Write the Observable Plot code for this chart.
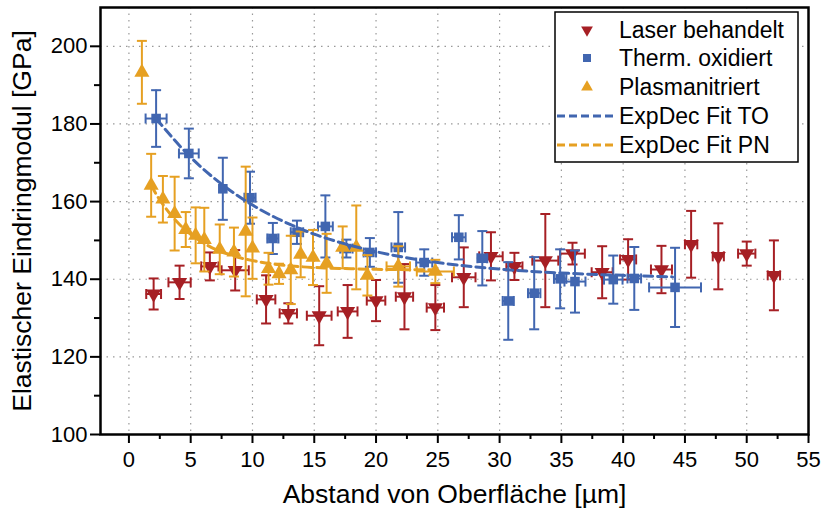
<!DOCTYPE html>
<html>
<head>
<meta charset="utf-8">
<script src="https://cdn.jsdelivr.net/npm/d3@7"></script>
<script src="https://cdn.jsdelivr.net/npm/@observablehq/plot@0.6"></script>
<style>
  html, body { margin: 0; padding: 0; background: white; }
</style>
</head>
<body>
<div id="chart"></div>
<script>
// Elastic indentation modulus vs. distance from surface, three surface treatments

// Laser behandelt
const laserX    = [2.0, 4.1, 6.55, 8.6, 11.1, 12.9, 15.4, 17.7, 20.0, 22.3, 24.8, 27.1, 29.3, 31.2, 33.7, 35.9, 38.3, 40.4, 43.1, 45.5, 47.7, 50.0, 52.2];
const laserY    = [136.2, 139.2, 143.3, 142.3, 134.8, 131.2, 130.6, 131.7, 134.5, 135.5, 132.7, 140.5, 145.9, 143.3, 144.8, 146.6, 141.8, 145.1, 142.5, 149.0, 145.9, 146.6, 141.0];
const laserYErr = [4.0, 4.3, 3.6, 5.2, 6.2, 2.6, 7.6, 6.8, 5.3, 8.4, 5.8, 7.7, 6.2, 3.5, 12.0, 2.8, 6.7, 5.2, 6.1, 8.6, 8.5, 3.1, 9.0];
const laserXErr = [0.6, 0.9, 0.7, 1.1, 0.75, 0.7, 1.0, 0.8, 0.75, 0.7, 0.7, 0.95, 0.95, 0.65, 1.05, 1.0, 0.85, 0.65, 0.85, 0.5, 0.45, 0.7, 0.5];

// Therm. oxidiert
const toX    = [2.2, 4.85, 7.6, 9.8, 11.65, 13.6, 15.9, 17.6, 19.5, 21.8, 23.9, 26.7, 28.6, 30.7, 32.8, 34.9, 36.1, 39.2, 40.9, 44.2];
const toY    = [181.4, 172.4, 163.3, 161.0, 150.5, 152.1, 153.6, 147.9, 146.9, 148.2, 144.3, 150.8, 145.4, 134.4, 136.4, 140.1, 139.4, 139.9, 140.2, 137.9];
const toYErr = [7.3, 6.4, 8.0, 6.7, 4.0, 3.0, 8.0, 2.3, 3.7, 9.1, 3.4, 5.7, 7.0, 10.0, 9.3, 7.6, 8.0, 6.2, 8.1, 10.2];
const toXErr = [0.85, 0.8, 0, 0.45, 0.45, 0.5, 0.6, 0.5, 0.5, 0.55, 0.65, 0.55, 0.4, 0.45, 0.5, 0.5, 0.85, 0.75, 0.55, 2.1];

// Plasmanitriert
const pnX    = [1.05, 1.8, 2.75, 3.7, 4.6, 5.4, 6.1, 7.35, 8.5, 9.45, 10.0, 11.3, 12.15, 13.1, 13.9, 14.9, 16.0, 17.3, 18.4, 19.3, 21.8, 24.8];
const pnY    = [193.3, 164.2, 160.6, 156.9, 152.8, 151.3, 150.2, 147.7, 147.0, 152.3, 148.0, 142.7, 141.4, 142.4, 146.4, 145.6, 144.1, 148.2, 148.2, 141.0, 143.3, 142.0];
const pnYErr = [8.1, 8.1, 6.0, 9.5, 4.5, 7.2, 8.2, 6.4, 6.3, 16.7, 7.9, 4.1, 2.6, 8.8, 5.9, 7.1, 7.6, 5.4, 10.8, 5.2, 5.2, 3.0];
const pnXErr = [0, 0, 0, 0, 0, 0, 0, 0, 0, 0, 0, 0, 0, 0, 0, 0, 0, 0, 0, 0, 0.95, 1.5];

// ExpDec fit curves, sampled along the fitted lines
const toFitX = [2.2, 5, 7.5, 10, 12.5, 15, 17.5, 20, 25, 30, 35, 40, 44];
const toFitY = [181.4, 171.4, 164.5, 159.1, 154.9, 151.6, 149.1, 147.1, 144.3, 142.6, 141.6, 141.0, 140.6];
const pnFitX = [1.8, 2.5, 3, 4, 5, 6, 7, 8, 9, 10, 12, 14, 16, 18, 20, 22.5, 24.8];
const pnFitY = [164.2, 160.4, 158.2, 154.4, 151.6, 149.4, 147.7, 146.5, 145.5, 144.8, 143.8, 143.2, 142.9, 142.7, 142.55, 142.47, 142.43];

// Axis ticks
const xMajor = [0, 5, 10, 15, 20, 25, 30, 35, 40, 45, 50, 55];
const xMinor = [2.5, 7.5, 12.5, 17.5, 22.5, 27.5, 32.5, 37.5, 42.5, 47.5, 52.5];
const xGrid  = [0, 5, 10, 15, 20, 25, 30, 35, 40, 45, 50];
const yMajor = [100, 120, 140, 160, 180, 200];
const yMinor = [110, 130, 150, 170, 190];
const yGrid  = [120, 140, 160, 180, 200];

const seriesNames = ["Laser behandelt", "Therm. oxidiert", "Plasmanitriert"];
const fitNames = ["ExpDec Fit TO", "ExpDec Fit PN"];

const RED = "#a61f24", BLUE = "#4166b0", GOLD = "#e6a022";
const FONT = "'Liberation Sans', Arial, Helvetica, sans-serif";

const rows = (xs, ys, ye, xe) => xs.map((x, i) => ({x, y: ys[i], ye: ye[i], xe: xe[i]}));
const laser = rows(laserX, laserY, laserYErr, laserXErr);
const to = rows(toX, toY, toYErr, toXErr);
const pn = rows(pnX, pnY, pnYErr, pnXErr);
const toFit = toFitX.map((x, i) => ({x, y: toFitY[i]}));
const pnFit = pnFitX.map((x, i) => ({x, y: pnFitY[i]}));

// Error bar cap symbols (fixed pixel width)
const capH = {draw(ctx) { ctx.moveTo(-5, 0); ctx.lineTo(5, 0); }};
const capV = {draw(ctx) { ctx.moveTo(0, -5); ctx.lineTo(0, 5); }};

function errorBars(data, color) {
  const withX = data.filter(d => d.xe > 0);
  const caps = data.flatMap(d => [{x: d.x, y: d.y + d.ye}, {x: d.x, y: d.y - d.ye}]);
  const xcaps = withX.flatMap(d => [{x: d.x + d.xe, y: d.y}, {x: d.x - d.xe, y: d.y}]);
  return [
    Plot.ruleX(data, {x: "x", y1: d => d.y - d.ye, y2: d => d.y + d.ye, stroke: color, strokeWidth: 2}),
    Plot.dot(caps, {x: "x", y: "y", symbol: capH, fill: "none", stroke: color, strokeWidth: 2}),
    Plot.ruleY(withX, {y: "y", x1: d => d.x - d.xe, x2: d => d.x + d.xe, stroke: color, strokeWidth: 2}),
    Plot.dot(xcaps, {x: "x", y: "y", symbol: capV, fill: "none", stroke: color, strokeWidth: 2})
  ];
}

const chart = Plot.plot({
  width: 827,
  height: 518,
  marginLeft: 100,
  marginRight: 19,
  marginTop: 7,
  marginBottom: 84,
  style: {fontFamily: FONT, fontSize: "22px", background: "white", color: "black"},
  x: {domain: [-2.3, 55]},
  y: {domain: [100, 210]},
  marks: [
    Plot.gridX(xGrid, {stroke: "#999999", strokeOpacity: 1, strokeWidth: 1.2, strokeDasharray: "1.5,5"}),
    Plot.gridY(yGrid, {stroke: "#999999", strokeOpacity: 1, strokeWidth: 1.2, strokeDasharray: "1.5,5"}),

    ...errorBars(laser, RED),
    Plot.dot(laser, {x: "x", y: "y", symbol: "triangle", rotate: 180, r: 5.6, fill: RED}),

    ...errorBars(to, BLUE),
    Plot.dot(to, {x: "x", y: "y", symbol: "square", r: 5.4, fill: BLUE}),

    ...errorBars(pn, GOLD),
    Plot.dot(pn, {x: "x", y: "y", symbol: "triangle", r: 5.6, fill: GOLD}),

    Plot.line(toFit, {x: "x", y: "y", curve: "monotone-x", stroke: BLUE, strokeWidth: 3, strokeDasharray: "9,5"}),
    Plot.line(pnFit, {x: "x", y: "y", curve: "monotone-x", stroke: GOLD, strokeWidth: 3, strokeDasharray: "9,5"}),

    Plot.axisX(xMajor, {tickSize: 9, tickPadding: 8, strokeWidth: 2, fontSize: 22, label: null}),
    Plot.axisX(xMinor, {tickSize: 5, text: null, strokeWidth: 2, label: null}),
    Plot.axisY(yMajor, {tickSize: 10, tickPadding: 3, strokeWidth: 2, fontSize: 22, label: null}),
    Plot.axisY(yMinor, {tickSize: 6, text: null, strokeWidth: 2, label: null}),
    Plot.frame({stroke: "black", strokeWidth: 2.5}),

    Plot.text(["Abstand von Oberfläche [µm]"], {frameAnchor: "bottom", dy: 68, fontSize: 26.5, textAnchor: "middle"}),
    Plot.text(["Elastischer Eindringmodul [GPa]"], {frameAnchor: "left", dx: -78, rotate: -90, fontSize: 26.5, textAnchor: "middle"})
  ]
});

document.getElementById("chart").appendChild(chart);

// Legend box in the upper right corner of the plot area
const svg = d3.select(chart);
const lg = svg.append("g").attr("font-family", FONT).attr("font-size", 23).attr("text-anchor", "start");
lg.append("rect").attr("x", 555).attr("y", 12).attr("width", 243).attr("height", 150)
  .attr("fill", "white").attr("stroke", "black").attr("stroke-width", 1.5);

const rowY = [30, 58, 87, 116, 145];
const entries = [
  {label: seriesNames[0], kind: "tri-down", color: RED},
  {label: seriesNames[1], kind: "square", color: BLUE},
  {label: seriesNames[2], kind: "tri-up", color: GOLD},
  {label: fitNames[0], kind: "dash", color: BLUE},
  {label: fitNames[1], kind: "dash", color: GOLD}
];
entries.forEach((e, i) => {
  const cy = rowY[i];
  if (e.kind === "dash") {
    lg.append("line").attr("x1", 557).attr("x2", 613).attr("y1", cy).attr("y2", cy)
      .attr("stroke", e.color).attr("stroke-width", 3).attr("stroke-dasharray", "8,4");
  } else {
    const type = e.kind === "square" ? d3.symbolSquare : d3.symbolTriangle;
    const size = e.kind === "square" ? 64 : 60;
    lg.append("path").attr("d", d3.symbol(type, size)())
      .attr("transform", `translate(587,${cy})` + (e.kind === "tri-down" ? " rotate(180)" : ""))
      .attr("fill", e.color);
  }
  lg.append("text").attr("x", 619).attr("y", cy + 8).attr("fill", "black").text(e.label);
});
</script>
</body>
</html>
